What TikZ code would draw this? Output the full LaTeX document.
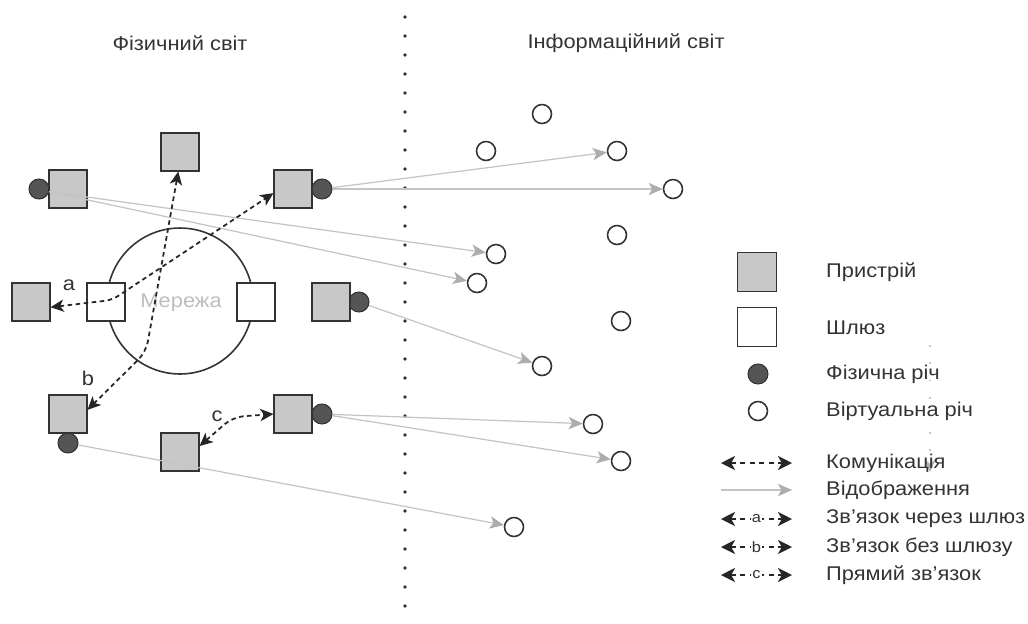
\documentclass[tikz,border=0pt]{standalone}
\usepackage{fontspec}
\setmainfont{Liberation Sans}[FakeStretch=1.1]
\usetikzlibrary{arrows.meta}
\definecolor{devfill}{HTML}{C8C8C8}
\definecolor{edge}{HTML}{333333}
\definecolor{physfill}{HTML}{555555}
\definecolor{mapgrey}{HTML}{C4C4C4}
\definecolor{maphead}{HTML}{ADADAD}
\definecolor{txt}{HTML}{333333}
\definecolor{netgrey}{HTML}{BDBDBD}
\begin{document}
\begin{tikzpicture}[x=0.02cm,y=-0.02cm,
  every node/.style={font=\fontsize{11.3pt}{13pt}\selectfont, text=txt},
  dev/.style={draw=edge, fill=devfill, line width=0.9pt, minimum size=0.75cm, inner sep=0pt},
  gw/.style={dev, fill=white},
  phys/.style={circle, draw=edge, fill=physfill, line width=0.6pt, minimum size=0.4cm, inner sep=0pt},
  virt/.style={circle, draw=edge, fill=white, line width=0.9pt, minimum size=0.38cm, inner sep=0pt},
  comm/.style={draw=black!85, line width=1pt, dash pattern=on 2.6pt off 2pt,
    {Stealth[length=7.5pt,width=7pt,inset=2pt]}-{Stealth[length=7.5pt,width=7pt,inset=2pt]}},
  legcomm/.style={comm, dash pattern=on 3pt off 2.4pt,
    {Stealth[length=8pt,width=8pt,inset=2.2pt]}-{Stealth[length=8pt,width=8pt,inset=2.2pt]}},
  map/.style={draw=mapgrey, line width=0.7pt, -{Stealth[length=8pt,width=7pt,inset=2pt,color=maphead]}},
  small/.style={font=\fontsize{8.5pt}{9pt}\selectfont, fill=white, inner sep=0.6pt},
]
\useasboundingbox (0,0) rectangle (1028,623);

% divider
\foreach \k in {0,...,31} \fill[black!80] (405,17+19*\k) circle (0.038cm);

% titles
\node (t1) at (180,43) {Фізичний світ};
\node (t2) at (626,43) {Інформаційний світ};

% network
\node[circle, draw=edge, line width=0.9pt, minimum size=2.92cm] (net) at (180,301) {};
\node[text=netgrey] (netl) at (181,303) {Мережа};

% physical things (under squares)
\node[phys] (P1) at (39,189) {};
\node[phys] (P3) at (322,189) {};
\node[phys] (P5) at (359,302) {};
\node[phys] (P6) at (68,443) {};
\node[phys] (P7) at (322,414) {};

% devices and gateways
\node[dev] (D1) at (68,189) {};
\node[dev] (D2) at (180,152) {};
\node[dev] (D3) at (293,189) {};
\node[dev] (D4) at (31,302) {};
\node[gw]  (G1) at (106,302) {};
\node[gw]  (G2) at (256,302) {};
\node[dev] (D5) at (331,302) {};
\node[dev] (D6) at (68,414) {};
\node[dev] (D7) at (293,414) {};
\node[dev] (D8) at (180,452) {};

% virtual things
\node[virt] (V1) at (542,114) {};
\node[virt] (V2) at (486,151) {};
\node[virt] (V3) at (617,151) {};
\node[virt] (V4) at (673,189) {};
\node[virt] (V5) at (617,235) {};
\node[virt] (V6) at (496,254) {};
\node[virt] (V7) at (477,283) {};
\node[virt] (V8) at (621,321) {};
\node[virt] (V9) at (542,366) {};
\node[virt] (V10) at (593,424) {};
\node[virt] (V11) at (621,461) {};
\node[virt] (V12) at (514,527) {};

% mapping
\draw[map] (P1.-15) -- (V6);
\draw[map] (P1.-15) -- (V7);
\draw[map] (P3) -- (V3);
\draw[map] (P3) -- (V4);
\draw[map] (P5) -- (V9);
\draw[map] (P7) -- (V10);
\draw[map] (P7) -- (V11);
\draw[map] (P6) -- (V12);

% communication
\coordinate (abend) at (112,300);
\coordinate (bbend) at (146,352);
\coordinate (cbend) at (233,417);
\draw[comm, rounded corners=4pt] (D4.-15) -- (abend) -- (D3.192);
\draw[comm, rounded corners=6pt] (D2.-95) -- (bbend) -- (D6.12);
\draw[comm, rounded corners=6pt] (D8.17) -- (cbend) -- (D7.west);
\node (la) at (69,285) {a};
\node (lb) at (88,378) {b};
\node (lc) at (217,416) {c};

% stray faint arrow
\coordinate (s1) at (930,345);
\coordinate (s2) at (930,472);
\draw[draw=black!22, line width=0.9pt, dash pattern=on 0.9pt off 9pt,
  -{Stealth[length=7pt,width=6pt,color=black!30]}] (s1) -- (s2);

% legend
\node[dev, minimum size=0.78cm] (LD) at (757,272) {};
\node[gw, minimum size=0.78cm] (LG) at (757,327) {};
\node[phys] (LP) at (758,374) {};
\node[virt] (LV) at (758,411) {};
\node[anchor=west] (tD) at (820,272) {Пристрій};
\node[anchor=west] (tG) at (820,328) {Шлюз};
\node[anchor=west] (tP) at (820,374) {Фізична річ};
\node[anchor=west] (tV) at (820,411) {Віртуальна річ};
\node[anchor=west] (tC) at (820,463) {Комунікація};
\node[anchor=west] (tM) at (820,490) {Відображення};
\node[anchor=west] (tA) at (820,519) {Зв’язок через шлюз};
\node[anchor=west] (tB) at (820,547) {Зв’язок без шлюзу};
\node[anchor=west] (tCc) at (820,575) {Прямий зв’язок};

\coordinate (lc1) at (721,463); \coordinate (lc2) at (792,463);
\coordinate (lm1) at (721,490); \coordinate (lm2) at (792,490);
\coordinate (la1) at (721,519); \coordinate (la2) at (792,519);
\coordinate (lb1) at (721,547); \coordinate (lb2) at (792,547);
\coordinate (lx1) at (721,575); \coordinate (lx2) at (792,575);
\draw[legcomm] (lc1) -- (lc2);
\draw[map] (lm1) -- (lm2);
\draw[legcomm] (la1) -- node[small] {a} (la2);
\draw[legcomm] (lb1) -- node[small] {b} (lb2);
\draw[legcomm] (lx1) -- node[small] {c} (lx2);
\end{tikzpicture}
\end{document}
